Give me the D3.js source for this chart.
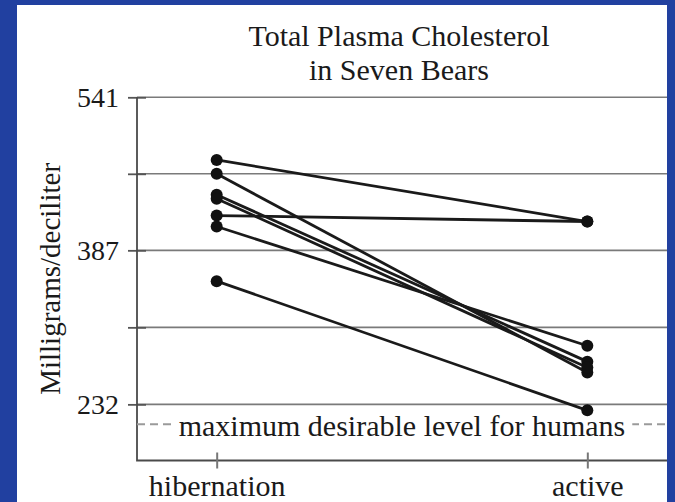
<!DOCTYPE html>
<html>
<head>
<meta charset="utf-8">
<script src="https://cdn.jsdelivr.net/npm/d3@7"></script>
<style>
  body { margin: 0; background: #2140a0; }
  svg { display: block; }
  text { font-family: "Liberation Serif", "DejaVu Serif", serif; fill: #1a1a1a; }
</style>
</head>
<body>
<figure id="bears" style="margin:0"></figure>
<script>
// data
const seasons = ["hibernation", "active"];
const hibernation = [478, 464, 443, 439, 422, 411, 356];
const active = [416, 264, 275, 269, 416, 291, 226];
const yTicks = [541, 464, 387, 309.5, 232];
const yTickLabels = ["541", "", "387", "", "232"];
const humanMax = 212;

const serif = "'Liberation Serif', 'DejaVu Serif', serif";

// set the dimensions and margins of the graph
const W = 675, H = 502;
const margin = {top: 97.3, right: 8, bottom: 41.5, left: 137},
  width = W - margin.left - margin.right,
  height = H - margin.top - margin.bottom;

const root = d3.select("figure#bears")
  .append("svg")
  .attr("width", W)
  .attr("height", H);

// blue frame with white panel
root.append("rect").attr("width", W).attr("height", H).attr("fill", "#2140a0");
root.append("rect")
  .attr("x", 17).attr("y", 5)
  .attr("width", W - 17 - margin.right).attr("height", H - 5)
  .attr("fill", "#ffffff");

const svg = root.append("g")
  .attr("transform", "translate(" + margin.left + "," + margin.top + ")");

// scales
const x = d3.scalePoint()
  .domain(seasons)
  .range([0, width])
  .padding(0.215);

const y = d3.scaleLinear()
  .domain([175.5, 541])
  .range([height, 0]);

// gridlines
svg.append("g")
  .selectAll("line")
  .data(yTicks)
  .join("line")
    .attr("x1", 0)
    .attr("x2", width)
    .attr("y1", d => y(d))
    .attr("y2", d => y(d))
    .attr("stroke", "#7a7a7a")
    .attr("stroke-width", 1.6);

// Add Y axis
const yAxis = svg.append("g")
  .call(d3.axisLeft(y).tickValues(yTicks).tickSize(8)
    .tickFormat((d, i) => yTickLabels[i]));
yAxis.select(".domain").remove();
yAxis.selectAll(".tick line")
  .attr("x2", 9).attr("x1", -9)
  .attr("stroke", "#555").attr("stroke-width", 1.8);
yAxis.selectAll(".tick text")
  .attr("x", -18)
  .attr("dy", "0.33em")
  .style("font-family", serif)
  .style("font-size", "28px")
  .attr("fill", "#1a1a1a");

// axis lines (left and bottom)
svg.append("path")
  .attr("d", d3.line()([[0, 0], [0, height], [width, height]]))
  .attr("fill", "none")
  .attr("stroke", "#4a4a4a")
  .attr("stroke-width", 1.8);

// Add X axis
const xAxis = svg.append("g")
  .attr("transform", `translate(0, ${height})`)
  .call(d3.axisBottom(x).tickSize(8));
xAxis.select(".domain").remove();
xAxis.selectAll(".tick line")
  .attr("y1", -8)
  .attr("stroke", "#777").attr("stroke-width", 2);
xAxis.selectAll(".tick text")
  .attr("y", 0)
  .attr("dy", 35)
  .style("font-family", serif)
  .style("font-size", "30px")
  .attr("fill", "#1a1a1a");

// maximum desirable level for humans
svg.append("line")
  .attr("x1", 0).attr("x2", width)
  .attr("y1", y(humanMax)).attr("y2", y(humanMax))
  .attr("stroke", "#9a9a9a")
  .attr("stroke-width", 2)
  .attr("stroke-dasharray", "8,5");
const labelBg = svg.append("rect").attr("fill", "#ffffff");
const label = svg.append("text")
  .attr("x", (x("hibernation") + x("active")) / 2)
  .attr("y", y(humanMax))
  .attr("dy", "0.4em")
  .attr("text-anchor", "middle")
  .style("font-family", serif)
  .style("font-size", "30px")
  .text("maximum desirable level for humans");
const bb = label.node().getBBox();
labelBg
  .attr("x", bb.x - 7).attr("y", bb.y)
  .attr("width", bb.width + 14).attr("height", bb.height);

// one line per bear
const bears = hibernation.map((h, i) => [h, active[i]]);
svg.append("g")
  .selectAll("path")
  .data(bears)
  .join("path")
    .attr("d", d => d3.line()
      .x((v, j) => x(seasons[j]))
      .y(v => y(v))(d))
    .attr("fill", "none")
    .attr("stroke", "#1a1a1a")
    .attr("stroke-width", 2.8);

// dots
const dots = bears.flatMap(d => d.map((v, j) => ({season: seasons[j], value: v})));
svg.append("g")
  .selectAll("circle")
  .data(dots)
  .join("circle")
    .attr("cx", d => x(d.season))
    .attr("cy", d => y(d.value))
    .attr("r", 6)
    .attr("fill", "#111");

// title
const title = root.append("text")
  .attr("x", 399)
  .attr("text-anchor", "middle")
  .style("font-family", serif)
  .style("font-size", "30px");
title.append("tspan").attr("x", 399).attr("y", 46).text("Total Plasma Cholesterol");
title.append("tspan").attr("x", 399).attr("y", 80).text("in Seven Bears");

// y axis label
root.append("text")
  .attr("transform", "translate(60," + (margin.top + height / 2) + ") rotate(-90)")
  .attr("text-anchor", "middle")
  .style("font-family", serif)
  .style("font-size", "29px")
  .text("Milligrams/deciliter");
</script>
</body>
</html>
